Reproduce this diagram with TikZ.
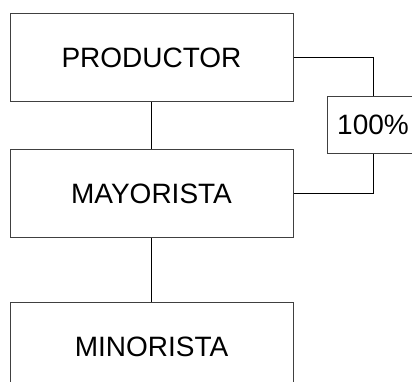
\documentclass[tikz,border=0pt]{standalone}
\usepackage{fontspec}
\setmainfont{Liberation Sans}
\usetikzlibrary{positioning}

\begin{document}
\begin{tikzpicture}[thick,
    box/.style={draw=black!75, line width=1pt, rectangle, minimum width=283pt, minimum height=88pt, inner sep=0pt, font=\fontsize{28}{34}\selectfont},
    pctbox/.style={draw=black!75, line width=1pt, rectangle, minimum width=92pt, minimum height=57pt, inner sep=0pt, font=\fontsize{28}{34}\selectfont},
    link/.style={draw=black, line width=1pt}]
    			\clip (0,0) rectangle (412pt,-381pt);
    			% PRODUCTOR -> MAYORISTA -> MINORISTA
    			\node[box] (PROD) at (151.5pt,-57.5pt) {PRODUCTOR};
    			\node[box,below=47pt of PROD] (MAY) {MAYORISTA};
    			\node[box,below=64pt of MAY] (MIN) {MINORISTA};
    			\node[pctbox] (PCT) at (373pt,-124.5pt) {100\%};
    			
    			\draw[link] (PROD) -- (MAY);
    			\draw[link] (MAY) -- (MIN);
    			\draw[link] (PROD.east) -| (PCT.north);
    			\draw[link] (PCT.south) |- (MAY.east);
    		\end{tikzpicture}
\end{document}
